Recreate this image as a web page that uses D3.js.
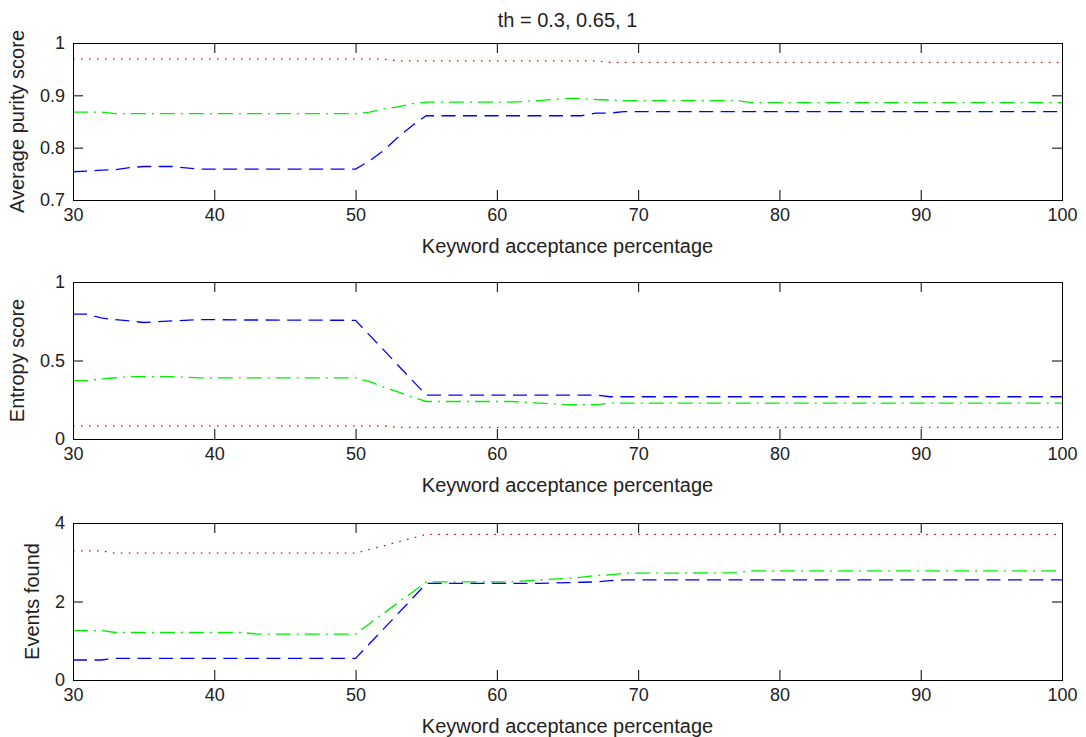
<!DOCTYPE html>
<html>
<head>
<meta charset="utf-8">
<script src="https://cdn.jsdelivr.net/npm/d3@7"></script>
<style>
	body { margin: 0; background: #fff; }
	svg { display: block; }
	text { font-family: "Liberation Sans", Arial, Helvetica, sans-serif; fill: #222; }
	.tick line { stroke: #000; }
</style>
</head>
<body>
<svg></svg>
<script>
// Keyword acceptance percentage (x positions where the curves were read)
var xs = [30, 31, 32, 33, 34, 35, 37, 39, 42, 43, 50, 51, 52, 53, 54, 55, 61, 63, 65, 66, 67, 68, 69, 77, 78, 100];

// Average purity score
var purityRed   = [0.969, 0.969, 0.969, 0.969, 0.969, 0.969, 0.969, 0.969, 0.969, 0.969, 0.969, 0.969, 0.969, 0.966, 0.966, 0.966, 0.966, 0.966, 0.966, 0.966, 0.966, 0.963, 0.963, 0.963, 0.963, 0.963];
var purityGreen = [0.868, 0.868, 0.868, 0.865, 0.865, 0.865, 0.865, 0.865, 0.865, 0.865, 0.865, 0.868, 0.874, 0.878, 0.884, 0.887, 0.887, 0.890, 0.894, 0.894, 0.892, 0.891, 0.890, 0.890, 0.886, 0.886];
var purityBlue  = [0.754, 0.755, 0.757, 0.758, 0.762, 0.764, 0.764, 0.759, 0.759, 0.759, 0.759, 0.775, 0.795, 0.820, 0.842, 0.861, 0.861, 0.861, 0.861, 0.861, 0.866, 0.866, 0.869, 0.869, 0.869, 0.869];

// Entropy score
var entropyRed   = [0.083, 0.083, 0.083, 0.083, 0.083, 0.083, 0.083, 0.083, 0.083, 0.083, 0.083, 0.083, 0.083, 0.074, 0.074, 0.074, 0.074, 0.074, 0.074, 0.074, 0.074, 0.074, 0.074, 0.074, 0.074, 0.074];
var entropyGreen = [0.372, 0.372, 0.383, 0.390, 0.397, 0.397, 0.397, 0.389, 0.389, 0.389, 0.389, 0.365, 0.330, 0.300, 0.268, 0.239, 0.239, 0.229, 0.218, 0.218, 0.218, 0.229, 0.229, 0.229, 0.229, 0.229];
var entropyBlue  = [0.795, 0.795, 0.771, 0.760, 0.752, 0.742, 0.752, 0.761, 0.758, 0.758, 0.756, 0.660, 0.566, 0.470, 0.375, 0.280, 0.280, 0.280, 0.280, 0.280, 0.280, 0.269, 0.269, 0.269, 0.269, 0.269];

// Events found
var eventsRed   = [3.29, 3.29, 3.29, 3.23, 3.23, 3.23, 3.23, 3.23, 3.23, 3.23, 3.23, 3.33, 3.42, 3.52, 3.61, 3.71, 3.71, 3.71, 3.71, 3.71, 3.71, 3.71, 3.71, 3.71, 3.71, 3.71];
var eventsGreen = [1.26, 1.26, 1.26, 1.21, 1.21, 1.21, 1.21, 1.21, 1.21, 1.17, 1.17, 1.44, 1.70, 1.97, 2.23, 2.50, 2.50, 2.55, 2.59, 2.62, 2.66, 2.68, 2.72, 2.73, 2.78, 2.78];
var eventsBlue  = [0.51, 0.51, 0.51, 0.55, 0.55, 0.55, 0.55, 0.55, 0.55, 0.55, 0.55, 0.93, 1.31, 1.69, 2.07, 2.46, 2.46, 2.46, 2.48, 2.49, 2.50, 2.53, 2.55, 2.55, 2.55, 2.55];

// Tick labels
var xTicks = [30, 40, 50, 60, 70, 80, 90, 100];
var purityTicks = [0.7, 0.8, 0.9, 1];
var entropyTicks = [0, 0.5, 1];
var eventsTicks = [0, 2, 4];

var titleText = "th = 0.3, 0.65, 1";
var xLabel = "Keyword acceptance percentage";

var panels = [
	{ label: "Average purity score", domain: [0.7, 1], ticks: purityTicks, series: [purityRed, purityGreen, purityBlue] },
	{ label: "Entropy score", domain: [0, 1], ticks: entropyTicks, series: [entropyRed, entropyGreen, entropyBlue] },
	{ label: "Events found", domain: [0, 4], ticks: eventsTicks, series: [eventsRed, eventsGreen, eventsBlue] }
];

// line styles: red dotted, green dash-dot, blue dashed
var styles = [
	{ color: "#ff0000", dash: "1.6,6.4" },
	{ color: "#00ee00", dash: "15,6,2,6" },
	{ color: "#0000ff", dash: "14,7.5" }
];

var svg = d3.select("svg"),
	width = 1086,
	height = 737;

svg.attr("width", width).attr("height", height);

var left = 73, right = 1062;
var tops = [43, 282, 523];
var ph = 157;

var x = d3.scaleLinear().domain([30, 100]).range([left, right]);

// Title
svg.append("text")
	.attr("x", (left + right) / 2)
	.attr("y", 27)
	.attr("text-anchor", "middle")
	.style("font-size", "20px")
	.text(titleText);

panels.forEach(function (p, i) {
	var top = tops[i];
	var y = d3.scaleLinear().domain(p.domain).range([top + ph, top]);
	var g = svg.append("g");

	// lines
	p.series.forEach(function (vals, k) {
		var line = d3.line()
			.x((d, j) => x(xs[j]))
			.y((d) => y(d));
		g.append("path")
			.datum(vals)
			.attr("d", line)
			.attr("fill", "none")
			.attr("stroke", styles[k].color)
			.attr("stroke-width", 1.3)
			.attr("stroke-dasharray", styles[k].dash);
	});

	// axes, ticks pointing inward
	var bottom = g.append("g")
		.attr("transform", "translate(0," + (top + ph) + ")")
		.call(d3.axisBottom(x).tickValues(xTicks).tickSizeInner(-10).tickSizeOuter(0).tickPadding(8).tickFormat(d3.format("d")));
	g.append("g")
		.attr("transform", "translate(0," + top + ")")
		.call(d3.axisTop(x).tickValues(xTicks).tickSizeInner(-10).tickSizeOuter(0).tickFormat(""));
	var leftAx = g.append("g")
		.attr("transform", "translate(" + left + ",0)")
		.call(d3.axisLeft(y).tickValues(p.ticks).tickSizeInner(-10).tickSizeOuter(0).tickPadding(8).tickFormat((d) => String(d)));
	g.append("g")
		.attr("transform", "translate(" + right + ",0)")
		.call(d3.axisRight(y).tickValues(p.ticks).tickSizeInner(-10).tickSizeOuter(0).tickFormat(""));

	g.selectAll(".domain").remove();
	g.selectAll(".tick text").style("font-size", "18px").attr("fill", "#222");

	// frame
	g.append("rect")
		.attr("x", left + 0.5)
		.attr("y", top + 0.5)
		.attr("width", right - left)
		.attr("height", ph)
		.attr("fill", "none")
		.attr("stroke", "#000");

	// x label
	g.append("text")
		.attr("x", (left + right) / 2)
		.attr("y", top + ph + 53)
		.attr("text-anchor", "middle")
		.style("font-size", "20px")
		.text(xLabel);

	// y label sits left of the widest tick label
	var maxW = 0;
	leftAx.selectAll(".tick text").each(function () {
		maxW = Math.max(maxW, this.getComputedTextLength());
	});
	var lx = left - 8 - maxW - 16;
	g.append("text")
		.attr("transform", "translate(" + lx + "," + (top + ph / 2) + ") rotate(-90)")
		.attr("text-anchor", "middle")
		.style("font-size", "20px")
		.text(p.label);
});
</script>
</body>
</html>
